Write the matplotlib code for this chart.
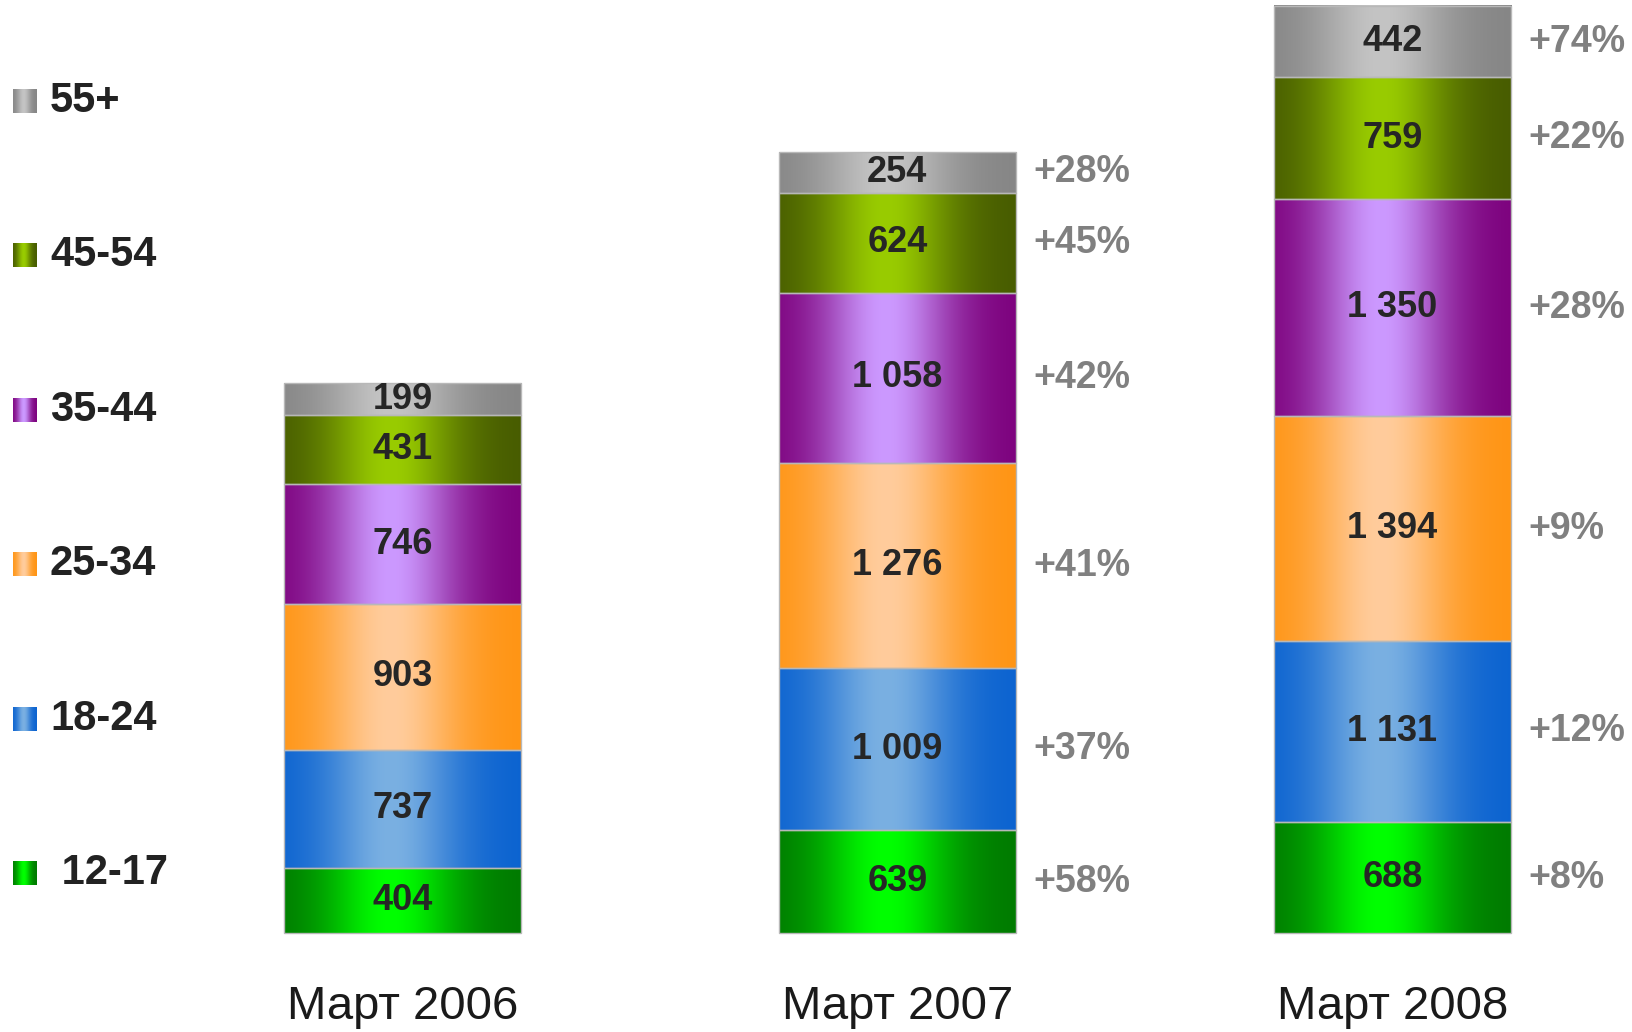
import matplotlib
matplotlib.use("Agg")
import matplotlib.pyplot as plt
import numpy as np
from matplotlib.colors import to_rgb

# data: audience by age group, thousands
periods = ["Март 2006", "Март 2007", "Март 2008"]
age_groups = [" 12-17", "18-24", "25-34", "35-44", "45-54", "55+"]
v_2006 = [404, 737, 903, 746, 431, 199]
v_2007 = [639, 1009, 1276, 1058, 624, 254]
v_2008 = [688, 1131, 1394, 1350, 759, 442]
growth_2007 = ["+58%", "+37%", "+41%", "+42%", "+45%", "+28%"]
growth_2008 = ["+8%", "+12%", "+9%", "+28%", "+22%", "+74%"]

values = [v_2006, v_2007, v_2008]
growth = [None, growth_2007, growth_2008]

# (edge colour, centre highlight) for the cylinder-like shading
shades = [
    ("#007800", "#00ff00"),
    ("#0a62d0", "#7ab0e2"),
    ("#ff9412", "#ffcc9c"),
    ("#7c007c", "#cc99ff"),
    ("#465a00", "#99cc00"),
    ("#858585", "#c4c4c4"),
]

plt.rcParams["font.family"] = ["Liberation Sans", "DejaVu Sans"]


def gradient(edge, centre, n=256):
    x = np.linspace(0, 1, n)
    w = np.exp(-((x - 0.45) / 0.28) ** 2)
    e = np.array(to_rgb(edge))
    c = np.array(to_rgb(centre))
    return (e[None, :] * (1 - w[:, None]) + c[None, :] * w[:, None])[None, :, :]


fig = plt.figure(figsize=(16.33, 10.32), dpi=100)
ax = fig.add_axes([0, 0, 1, 1])
ax.axis("off")

x = np.arange(len(periods))
width = 0.479
bottoms = np.zeros(len(periods))
for i, grp in enumerate(age_groups):
    seg = np.array([v[i] for v in values])
    bars = ax.bar(x, seg, width, bottom=bottoms, facecolor="none",
                  edgecolor="#b8b8b8", linewidth=1, zorder=3)
    img = gradient(*shades[i])
    for j, p in enumerate(bars.patches):
        x0, y0 = p.get_x(), p.get_y()
        ax.imshow(img, extent=[x0, x0 + p.get_width(), y0, y0 + p.get_height()],
                  aspect="auto", interpolation="bilinear", zorder=2)
        yc = y0 + p.get_height() / 2
        ax.text(x0 + p.get_width() / 2, yc, f"{seg[j]:,}".replace(",", " "),
                ha="center", va="center", fontsize=26, fontweight="bold",
                color="#262626", zorder=4)
        if growth[j] is not None:
            ax.text(x0 + p.get_width() + 0.036, yc, growth[j][i], ha="left",
                    va="center", fontsize=27, fontweight="bold",
                    color="#808080", zorder=4)
    bottoms += seg

for j, lab in enumerate(periods):
    ax.text(x[j], -458, lab, ha="center", va="center", fontsize=34,
            color="#1a1a1a")

ax.set_xlim(-0.813, 2.486)
ax.set_ylim(-616, 5804)

# legend down the left side, top entry is the oldest group
leg_y = np.linspace(1 - 101 / 1032, 1 - 873 / 1032, len(age_groups))
for k, grp in enumerate(age_groups[::-1]):
    idx = len(age_groups) - 1 - k
    lax = fig.add_axes([13 / 1633, leg_y[k] - 12 / 1032, 24 / 1633, 24 / 1032])
    lax.imshow(gradient(*shades[idx]), aspect="auto", interpolation="bilinear")
    lax.axis("off")
    fig.text(50 / 1633, leg_y[k], grp, ha="left", va="center", fontsize=30,
             fontweight="bold", color="#222222")

fig.savefig("out.png", dpi=100, facecolor="white")
